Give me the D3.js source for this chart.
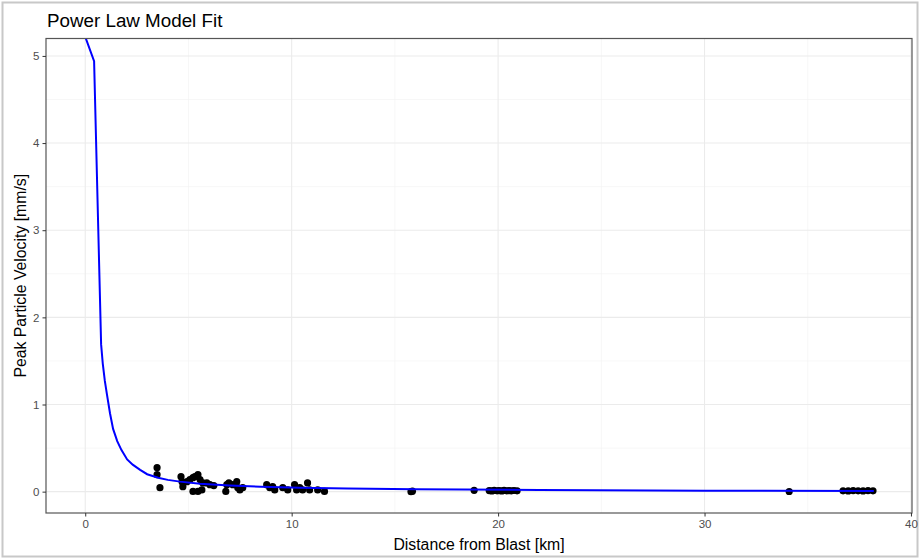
<!DOCTYPE html>
<html>
<head>
<meta charset="utf-8">
<script src="https://cdn.jsdelivr.net/npm/d3@7"></script>
<style>
  body { margin: 0; background: #fff; }
  svg { font-family: "Liberation Sans", Arial, sans-serif; }
</style>
</head>
<body>
<svg id="chart"></svg>
<script>
// observed blast readings: distance [km] and ppv [mm/s]
var distance = [3.48, 3.48, 3.62, 4.64, 4.69, 4.73, 4.93, 5.07, 5.22, 5.31, 5.46, 5.56, 5.22, 5.46, 5.65,
  5.70, 5.89, 6.04, 6.23, 6.86, 6.81, 6.96, 7.15, 7.34, 7.39, 7.49, 7.63, 8.79, 8.94, 9.08, 9.18,
  9.57, 9.81, 10.14, 10.24, 10.39, 10.53, 10.77, 10.87, 11.26, 11.59,
  15.78, 15.85, 18.84, 19.57, 19.7, 19.81, 19.95, 20.05, 20.18, 20.29, 20.41, 20.53, 20.65, 20.77, 20.92,
  34.1, 36.71, 36.96, 37.2, 37.44, 37.68, 37.92, 38.16];
var ppv = [0.275, 0.195, 0.046, 0.172, 0.115, 0.057, 0.115, 0.138, 0.16, 0.172, 0.195, 0.138, 0.003, 0.003, 0.02,
  0.1, 0.1, 0.08, 0.07, 0.08, 0.003, 0.1, 0.08, 0.115, 0.046, 0.02, 0.046, 0.08, 0.046, 0.057, 0.02,
  0.046, 0.02, 0.08, 0.02, 0.046, 0.02, 0.1, 0.02, 0.02, 0.003,
  0.0, 0.005, 0.015, 0.012, 0.008, 0.015, 0.01, 0.012, 0.008, 0.014, 0.01, 0.012, 0.01, 0.013, 0.01,
  0.002, 0.01, 0.008, 0.012, 0.01, 0.008, 0.012, 0.01];

// fitted power law curve
var fitX = [0, 0.43, 0.77, 0.85, 0.95, 1.05, 1.2, 1.35, 1.55, 1.75, 2.03, 2.3, 2.66, 3.0, 3.53, 4.0, 4.59,
  5.56, 7.0, 8.5, 10.4, 12.7, 16, 22, 30, 38.2];
var fitY = [5.22, 4.94, 1.69, 1.47, 1.27, 1.12, 0.9, 0.72, 0.58, 0.48, 0.37, 0.31, 0.25, 0.2, 0.16, 0.135, 0.115,
  0.09, 0.07, 0.056, 0.046, 0.036, 0.027, 0.019, 0.011, 0.007];

var xTicks = [0, 10, 20, 30, 40];
var yTicks = [0, 1, 2, 3, 4, 5];

var W = 920, H = 559;
var margin = {left: 46, top: 38.5, right: 8, bottom: 46};
var width = W - margin.left - margin.right,
    height = H - margin.top - margin.bottom;

var svg = d3.select("#chart").attr("width", W).attr("height", H);

// outer frame
svg.append("rect")
  .attr("x", 2.5).attr("y", 2.5).attr("width", W - 5).attr("height", H - 5)
  .attr("fill", "none").attr("stroke", "#c8c8c8").attr("stroke-width", 2);

var g = svg.append("g").attr("transform", "translate(" + margin.left + "," + margin.top + ")");

var x = d3.scaleLinear().domain([-1.9, 40.05]).range([0, width]);
var y = d3.scaleLinear().domain([-0.245, 5.2]).range([height, 0]);

g.append("clipPath").attr("id", "clip")
  .append("rect").attr("width", width).attr("height", height);

// minor grid
var xMinor = [5, 15, 25, 35], yMinor = [0.5, 1.5, 2.5, 3.5, 4.5];
g.selectAll(".xminor").data(xMinor).enter().append("line")
  .attr("x1", d => x(d)).attr("x2", d => x(d)).attr("y1", 0).attr("y2", height)
  .attr("stroke", "#f2f2f2").attr("stroke-width", 0.6);
g.selectAll(".yminor").data(yMinor).enter().append("line")
  .attr("y1", d => y(d)).attr("y2", d => y(d)).attr("x1", 0).attr("x2", width)
  .attr("stroke", "#f2f2f2").attr("stroke-width", 0.6);

// major grid
g.selectAll(".xgrid").data(xTicks).enter().append("line")
  .attr("x1", d => x(d)).attr("x2", d => x(d)).attr("y1", 0).attr("y2", height)
  .attr("stroke", "#ebebeb").attr("stroke-width", 1.1);
g.selectAll(".ygrid").data(yTicks).enter().append("line")
  .attr("y1", d => y(d)).attr("y2", d => y(d)).attr("x1", 0).attr("x2", width)
  .attr("stroke", "#ebebeb").attr("stroke-width", 1.1);

var plot = g.append("g").attr("clip-path", "url(#clip)");

plot.selectAll(".pt").data(distance).enter().append("circle")
  .attr("cx", d => x(d))
  .attr("cy", (d, i) => y(ppv[i]))
  .attr("r", 3.6)
  .attr("fill", "#000");

var line = d3.line()
  .x(d => x(d))
  .y((d, i) => y(fitY[i]));

plot.append("path")
  .datum(fitX)
  .attr("d", line)
  .attr("fill", "none")
  .attr("stroke", "#0000ff")
  .attr("stroke-width", 2);

// panel border
g.append("rect").attr("width", width).attr("height", height)
  .attr("fill", "none").attr("stroke", "#555").attr("stroke-width", 1.2);

// axes
var xAxis = g.append("g").attr("transform", "translate(0," + height + ")")
  .call(d3.axisBottom(x).tickValues(xTicks).tickFormat(d3.format("d")).tickSize(3.5).tickPadding(3));
var yAxis = g.append("g")
  .call(d3.axisLeft(y).tickValues(yTicks).tickFormat(d3.format("d")).tickSize(3.5).tickPadding(3));

[xAxis, yAxis].forEach(function(a) {
  a.select(".domain").remove();
  a.selectAll(".tick line").attr("stroke", "#333");
  a.selectAll(".tick text").attr("fill", "#4d4d4d").style("font-size", "11.5px")
    .style("font-family", "'Liberation Sans', Arial, sans-serif");
});

// titles
svg.append("text")
  .attr("x", 47).attr("y", 27)
  .style("font-size", "18.8px").attr("fill", "#000")
  .text("Power Law Model Fit");

svg.append("text")
  .attr("x", margin.left + width / 2).attr("y", 550)
  .attr("text-anchor", "middle")
  .style("font-size", "15.8px").attr("fill", "#000")
  .text("Distance from Blast [km]");

svg.append("text")
  .attr("transform", "translate(25.5," + (margin.top + height / 2) + ") rotate(-90)")
  .attr("text-anchor", "middle")
  .style("font-size", "15.8px").attr("fill", "#000")
  .text("Peak Particle Velocity [mm/s]");
</script>
</body>
</html>
